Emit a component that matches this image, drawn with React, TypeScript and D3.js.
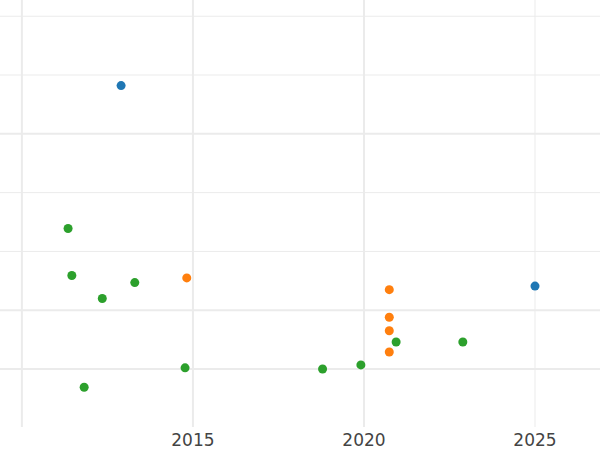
import * as d3 from "d3";

const WIDTH = 600;
const HEIGHT = 450;
const MARGIN = { top: 0, right: 0, bottom: 23, left: 0 };

// series data: [year, value]
const blueSeries: [number, number][] = [
  [2012.9, 4.82],
  [2025.0, 1.41],
];
const orangeSeries: [number, number][] = [
  [2014.82, 1.55],
  [2020.74, 1.35],
  [2020.74, 0.88],
  [2020.74, 0.65],
  [2020.74, 0.29],
];
const greenSeries: [number, number][] = [
  [2011.35, 2.39],
  [2011.46, 1.59],
  [2012.35, 1.2],
  [2013.3, 1.47],
  [2011.82, -0.31],
  [2014.77, 0.02],
  [2018.79, 0.0],
  [2019.91, 0.07],
  [2020.94, 0.46],
  [2022.89, 0.46],
];

const xTicks = [2010, 2015, 2020, 2025];
const xLabels = [2015, 2020, 2025];
const yMajor = [0, 1, 4];
const yMinor = [2, 3, 5, 6];

const COLORS = { blue: "#1f77b4", orange: "#ff7f0e", green: "#2ca02c" };

export default function App() {
  const boundsWidth = WIDTH - MARGIN.left - MARGIN.right;
  const boundsHeight = HEIGHT - MARGIN.top - MARGIN.bottom;

  const xScale = d3.scaleLinear().domain([2009.36, 2026.9]).range([0, boundsWidth]);
  const yScale = d3.scaleLinear().domain([-0.986, 6.276]).range([boundsHeight, 0]);

  const series = [
    { data: greenSeries, color: COLORS.green },
    { data: orangeSeries, color: COLORS.orange },
    { data: blueSeries, color: COLORS.blue },
  ];

  return (
    <svg
      width={WIDTH}
      height={HEIGHT}
      style={{ position: "absolute", left: 0, top: 0, background: "white" }}
      fontFamily="DejaVu Sans"
    >
      <g transform={`translate(${MARGIN.left},${MARGIN.top})`}>
        {yMinor.map((v) => (
          <line key={"mi" + v} x1={0} x2={boundsWidth} y1={yScale(v)} y2={yScale(v)} stroke="#ebebeb" strokeWidth={1} />
        ))}
        {yMajor.map((v) => (
          <line key={"ma" + v} x1={0} x2={boundsWidth} y1={yScale(v)} y2={yScale(v)} stroke="#ebebeb" strokeWidth={2} />
        ))}
        {xTicks.map((t) => (
          <line key={"x" + t} x1={xScale(t)} x2={xScale(t)} y1={0} y2={boundsHeight} stroke="#ebebeb" strokeWidth={t === 2025 ? 1 : 2} />
        ))}
        {series.map((s, si) =>
          s.data.map((d, i) => (
            <circle key={si + "-" + i} cx={xScale(d[0])} cy={yScale(d[1])} r={4.5} fill={s.color} />
          ))
        )}
        {xLabels.map((t) => (
          <text key={"l" + t} x={xScale(t)} y={boundsHeight + 14} textAnchor="middle" dominantBaseline="middle" fontSize={17} fill="#444">
            {t}
          </text>
        ))}
      </g>
    </svg>
  );
}
